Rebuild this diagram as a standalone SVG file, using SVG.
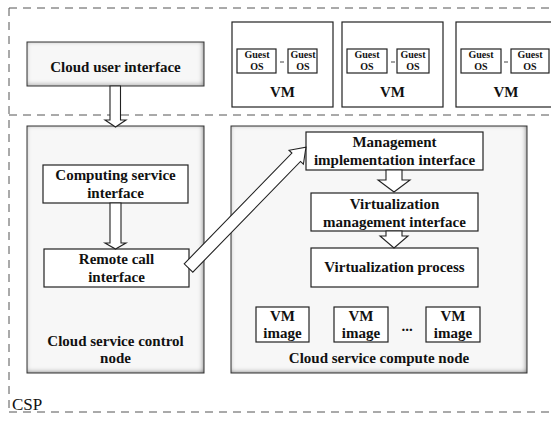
<svg xmlns="http://www.w3.org/2000/svg" width="551" height="422" viewBox="0 0 551 422" font-family="Liberation Serif, Times New Roman, serif">
<defs>
<filter id="inner" x="-5%" y="-5%" width="110%" height="110%">
<feFlood flood-color="#5a5a5a"/>
<feComposite in2="SourceAlpha" operator="out"/>
<feGaussianBlur stdDeviation="2.5"/>
<feOffset dx="-1" dy="-1"/>
<feComposite in2="SourceAlpha" operator="in" result="sh"/>
<feMerge><feMergeNode in="SourceGraphic"/><feMergeNode in="sh"/></feMerge>
</filter>
</defs>
<style>
.dash{stroke:#555;stroke-width:1;stroke-dasharray:8 6;fill:none}
.big{fill:#f7f7f7;filter:url(#inner)}
.bigb{fill:none;stroke:#333;stroke-width:1}
.box{fill:#fff;stroke:#222;stroke-width:1.2}
.vm{fill:#fff;stroke:#222;stroke-width:1.2}
.t{font-weight:bold;font-size:15px;fill:#111;text-anchor:middle}
.g{font-weight:bold;font-size:10px;fill:#111;text-anchor:middle}
.arr{fill:#fff;stroke:#222;stroke-width:1.1;stroke-linejoin:miter}
</style>
<g id="csp">
<line class="dash" x1="9" y1="8" x2="551" y2="8"/>
<line class="dash" x1="9" y1="115" x2="551" y2="115"/>
<line class="dash" x1="9" y1="412" x2="551" y2="412"/>
<line class="dash" x1="9" y1="8" x2="9" y2="412"/>
<text x="12" y="410" font-size="17" fill="#111" font-family="Liberation Serif, serif">CSP</text>
</g>
<g id="cloud-user-interface">
<rect class="big" x="27" y="42" width="177" height="44"/>
<rect class="bigb" x="27" y="42" width="177" height="44"/>
<text class="t" x="115.5" y="71.5">Cloud user interface</text>
</g>
<g id="vm1">
<rect class="vm" x="232" y="22" width="101" height="85"/>
<rect class="vm" x="237" y="49" width="39" height="24"/>
<rect class="vm" x="288" y="49" width="29" height="24"/>
<line x1="280" y1="62" x2="284" y2="62" stroke="#444"/>
<text class="g" x="257" y="58">Guest</text><text class="g" x="257" y="70">OS</text>
<text class="g" x="303" y="58">Guest</text><text class="g" x="303" y="70">OS</text>
<text class="t" x="282.5" y="97">VM</text>
</g>
<g id="vm2">
<rect class="vm" x="342" y="22" width="101" height="85"/>
<rect class="vm" x="347" y="49" width="40" height="24"/>
<rect class="vm" x="397" y="49" width="32" height="24"/>
<line x1="391" y1="62" x2="395" y2="62" stroke="#444"/>
<text class="g" x="367" y="58">Guest</text><text class="g" x="367" y="70">OS</text>
<text class="g" x="413" y="58">Guest</text><text class="g" x="413" y="70">OS</text>
<text class="t" x="392.5" y="97">VM</text>
</g>
<g id="vm3">
<rect class="vm" x="456" y="22" width="100" height="85"/>
<rect class="vm" x="461" y="49" width="40" height="24"/>
<rect class="vm" x="511" y="49" width="38" height="24"/>
<line x1="504" y1="62" x2="508" y2="62" stroke="#444"/>
<text class="g" x="481" y="58">Guest</text><text class="g" x="481" y="70">OS</text>
<text class="g" x="530" y="58">Guest</text><text class="g" x="530" y="70">OS</text>
<text class="t" x="506" y="97">VM</text>
</g>
<g id="cloud-service-control-node">
<rect class="big" x="27" y="126" width="177" height="247"/>
<rect class="bigb" x="27" y="126" width="177" height="247"/>
<text class="t" x="115.5" y="346">Cloud service control</text>
<text class="t" x="115.5" y="363">node</text>
</g>
<g id="cloud-service-compute-node">
<rect class="big" x="231" y="126" width="296" height="247"/>
<rect class="bigb" x="231" y="126" width="296" height="247"/>
<text class="t" x="379" y="363">Cloud service compute node</text>
</g>
<g id="computing-service-interface">
<rect class="box" x="43" y="165" width="145" height="38"/>
<text class="t" x="115.5" y="180">Computing service</text>
<text class="t" x="115.5" y="198">interface</text>
</g>
<g id="remote-call-interface">
<rect class="box" x="44" y="249" width="145" height="38"/>
<text class="t" x="116.5" y="264">Remote call</text>
<text class="t" x="116.5" y="282">interface</text>
</g>
<g id="management-implementation-interface">
<rect class="box" x="306" y="132" width="177" height="38"/>
<text class="t" x="394.5" y="147">Management</text>
<text class="t" x="394.5" y="165">implementation interface</text>
</g>
<g id="virtualization-management-interface">
<rect class="box" x="311" y="193" width="167" height="38"/>
<text class="t" x="394.5" y="209">Virtualization</text>
<text class="t" x="394.5" y="227">management interface</text>
</g>
<g id="virtualization-process">
<rect class="box" x="311" y="248" width="167" height="39"/>
<text class="t" x="394.5" y="272">Virtualization process</text>
</g>
<g id="vm-image-1">
<rect class="box" x="256" y="307" width="53" height="35"/>
<text class="t" x="282.5" y="321">VM</text><text class="t" x="282.5" y="338">image</text>
</g>
<g id="vm-image-2">
<rect class="box" x="334" y="307" width="54" height="35"/>
<text class="t" x="361" y="321">VM</text><text class="t" x="361" y="338">image</text>
</g>
<text class="t" x="407" y="331">...</text>
<g id="vm-image-3">
<rect class="box" x="426" y="307" width="54" height="35"/>
<text class="t" x="453" y="321">VM</text><text class="t" x="453" y="338">image</text>
</g>
<g id="connectors">
<polygon class="arr" points="110,86 120.5,86 120.5,120 126,120 115.5,127 105,120 110,120"/>
<polygon class="arr" points="110,203 121,203 121,243 126,243 115.5,249 105,243 110,243"/>
<polygon class="arr" points="386,170 402,170 402,180 410,180 394,192 378,180 386,180"/>
<polygon class="arr" points="386,231 402,231 402,236 408,236 394,248 380,236 386,236"/>
<polygon class="arr" transform="translate(188.5,268) rotate(-45.8)" points="0,-6 154.5,-6 154.5,-10 168.5,0 154.5,10 154.5,6 0,6"/>
</g>
</svg>
